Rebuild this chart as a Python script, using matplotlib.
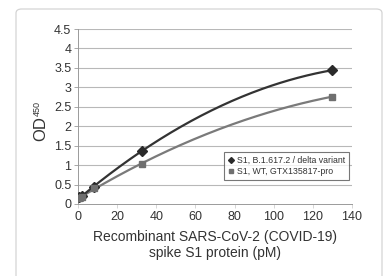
import numpy as np
import matplotlib
matplotlib.use("Agg")
import matplotlib.pyplot as plt
from matplotlib.patches import FancyBboxPatch
from matplotlib.lines import Line2D

conc = [0.5, 2.0, 8.1, 32.5, 130.0]
delta_od = [0.17, 0.21, 0.43, 1.37, 3.44]
wt_od = [0.15, 0.19, 0.40, 1.04, 2.76]
series_names = ["S1, B.1.617.2 / delta variant", "S1, WT, GTX135817-pro"]
xticks = [0, 20, 40, 60, 80, 100, 120, 140]
yticks = [0, 0.5, 1, 1.5, 2, 2.5, 3, 3.5, 4, 4.5]
ytick_labels = ["0", "0.5", "1", "1.5", "2", "2.5", "3", "3.5", "4", "4.5"]

font = ["Liberation Sans Narrow", "Liberation Sans", "DejaVu Sans"]
plt.rcParams['font.family'] = font

def trend(x, y, n=200):
    # 2nd-order polynomial trendline through the data
    coef = np.polyfit(x, y, 2)
    xs = np.linspace(min(x), max(x), n)
    return xs, np.polyval(coef, xs)

fig = plt.figure(figsize=(3.84, 2.76), dpi=100)
fig.patch.set_facecolor("white")
frame = FancyBboxPatch((16 / 384, -0.05), (382 - 16) / 384, (276 - 9) / 276 + 0.05,
                       boxstyle="round,pad=0,rounding_size=0.015",
                       transform=fig.transFigure, facecolor="none",
                       edgecolor="#d4d4d4", linewidth=0.9, zorder=-5)
fig.patches.append(frame)

ax = fig.add_axes([78.3 / 384, 1 - 204 / 276, (351.7 - 78.3) / 384, (204 - 29) / 276])
ax.set_facecolor("none")
ax.set_xlim(0, 140)
ax.set_ylim(0, 4.5)
ax.set_xticks(xticks)
ax.set_yticks(yticks)
ax.set_yticklabels(ytick_labels)
for v in yticks[1:]:
    ax.axhline(v, color="#b8b8b8", lw=0.8, zorder=0)
for s in ["top", "right"]:
    ax.spines[s].set_visible(False)
ax.spines["left"].set_color("#9a9a9a")
ax.spines["bottom"].set_color("#9a9a9a")
ax.spines["left"].set_linewidth(0.7)
ax.spines["bottom"].set_linewidth(0.7)
ax.tick_params(axis="both", labelsize=9, colors="#333333", length=3, width=0.6, pad=2)
ax.tick_params(axis="y", length=3, color="#9a9a9a")
ax.tick_params(axis="x", color="#d0d0d0")

xs, ys = trend(conc, delta_od)
ax.plot(xs, ys, color="#333333", lw=1.6, zorder=3)
ax.plot(conc, delta_od, ls="none", marker="D", ms=5, color="#2a2a2a", zorder=4)
xs, ys = trend(conc, wt_od)
ax.plot(xs, ys, color="#7a7a7a", lw=1.6, zorder=2)
ax.plot(conc, wt_od, ls="none", marker="s", ms=4.5, color="#6f6f6f", zorder=4)

ax.set_xlabel("Recombinant SARS-CoV-2 (COVID-19)\nspike S1 protein (pM)", fontsize=10,
              color="#333333", labelpad=5, linespacing=1.2)

fig.text(41 / 384, 1 - 129 / 276, "OD", rotation=90, fontsize=12, color="#333333",
         ha="center", va="center")
fig.text(37 / 384, 1 - 109 / 276, "450", rotation=90, fontsize=6.5, color="#333333",
         ha="center", va="center")

handles = [Line2D([], [], ls="none", marker="D", ms=3, color="#2a2a2a"),
           Line2D([], [], ls="none", marker="s", ms=3, color="#6f6f6f")]
leg = ax.legend(handles, series_names, loc="lower left",
                bbox_to_anchor=((224 - 78.3) / (351.7 - 78.3), (204 - 180) / 175,
                                (349 - 224) / (351.7 - 78.3), (180 - 150) / 175),
                mode="expand", fontsize=6.3, frameon=True, fancybox=False,
                handlelength=0.6, handletextpad=0.4, borderpad=0.45, labelspacing=0.2,
                borderaxespad=0)
leg.get_frame().set_edgecolor("#555555")
leg.get_frame().set_linewidth(0.8)
for t in leg.get_texts():
    t.set_color("#333333")

fig.savefig("out.png", dpi=100)
